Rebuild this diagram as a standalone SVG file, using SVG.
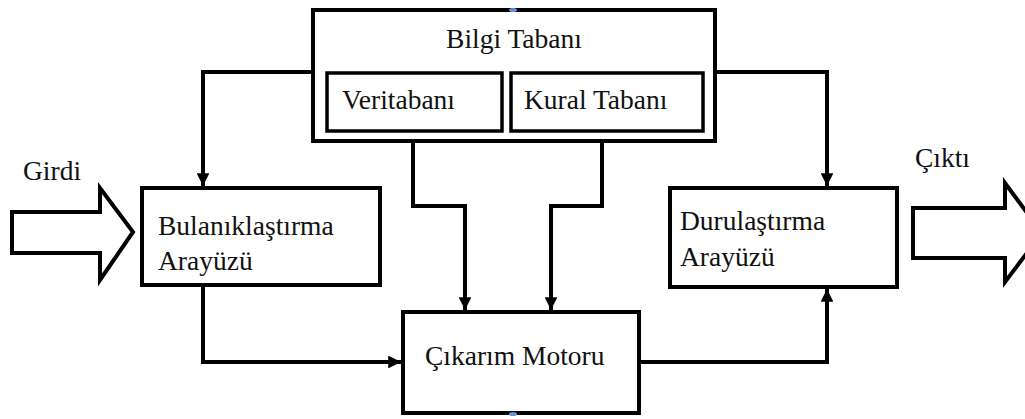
<svg xmlns="http://www.w3.org/2000/svg" width="1025" height="419" viewBox="0 0 1025 419">
<defs>
<style>
.box{fill:#fff;stroke:#000;stroke-width:4}
.inner{fill:#fff;stroke:#000;stroke-width:3.5}
.con{fill:none;stroke:#000;stroke-width:4;stroke-linejoin:miter}
.big{fill:#fff;stroke:#000;stroke-width:4;stroke-linejoin:miter}
</style>
<marker id="ah" viewBox="0 0 10 10" refX="10" refY="5" markerWidth="3.2" markerHeight="3.2" markerUnits="strokeWidth" orient="auto">
<path d="M0,0 L10,5 L0,10 Z" fill="#000"/>
</marker>
</defs>
<rect width="1025" height="419" fill="#fff"/>
<g id="connectors">
<path class="con" d="M312,72 H203 V186" marker-end="url(#ah)"/>
<path class="con" d="M716,72 H827 V186" marker-end="url(#ah)"/>
<path class="con" d="M413,131 V206 H465 V310" marker-end="url(#ah)"/>
<path class="con" d="M602,131 V206 H551 V310" marker-end="url(#ah)"/>
<path class="con" d="M203,285 V362 H401" marker-end="url(#ah)"/>
<path class="con" d="M640,362 H827 V289" marker-end="url(#ah)"/>
</g>
<g font-family="Tinos, 'Liberation Serif', 'Times New Roman', 'DejaVu Serif', 'Noto Serif', serif" font-size="27.5" fill="#111">
<g id="bilgi-tabani">
<rect class="box" x="313" y="10" width="402" height="131"/>
<text x="514" y="48" text-anchor="middle">Bilgi Tabanı</text>
</g>
<g id="veritabani">
<rect class="inner" x="327" y="73" width="175" height="58"/>
<text x="342" y="109">Veritabanı</text>
</g>
<g id="kural-tabani">
<rect class="inner" x="511" y="73" width="192" height="58"/>
<text x="524" y="109">Kural Tabanı</text>
</g>
<g id="bulaniklastirma">
<rect class="box" x="142" y="188" width="238" height="97"/>
<text x="158" y="235">Bulanıklaştırma</text>
<text x="158" y="270">Arayüzü</text>
</g>
<g id="durulastirma">
<rect class="box" x="670" y="188" width="227" height="99"/>
<text x="680" y="230">Durulaştırma</text>
<text x="680" y="266">Arayüzü</text>
</g>
<g id="cikarim-motoru">
<rect class="box" x="403" y="312" width="236" height="101"/>
<text x="425" y="365">Çıkarım Motoru</text>
</g>
<g id="girdi">
<path class="big" d="M12,212 H100 V188 L133,232 L100,280 V253 H12 Z"/>
<text x="23" y="180">Girdi</text>
</g>
<g id="cikti">
<path class="big" d="M913,208 H1005 V183 L1042,233 L1005,282 V258 H913 Z"/>
<text x="915" y="167">Çıktı</text>
</g>
</g>
<ellipse cx="513" cy="10" rx="4" ry="2" fill="#6a8fd0"/>
<ellipse cx="513" cy="414" rx="4" ry="2" fill="#6a8fd0"/>
</svg>
